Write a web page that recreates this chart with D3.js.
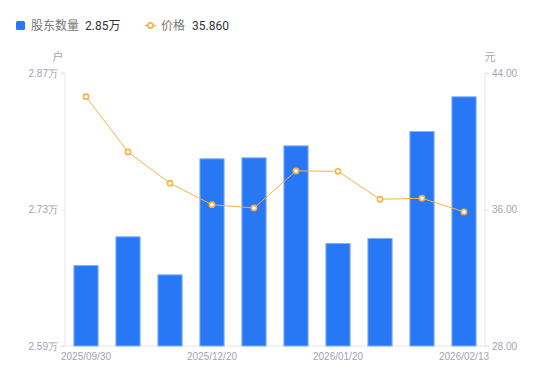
<!DOCTYPE html>
<html>
<head>
<meta charset="utf-8">
<script src="https://cdn.jsdelivr.net/npm/d3@7.9.0/dist/d3.min.js"></script>
<style>
  body { margin: 0; background: #fff; }
  svg { font-family: Roboto, "Noto Sans CJK SC", sans-serif; }
</style>
</head>
<body>
<svg id="chart"></svg>
<script>
const width = 550;
const height = 381;

// data
const dates = ["2025/09/30", "2025/10/31", "2025/11/30", "2025/12/20", "2025/12/31",
               "2026/01/09", "2026/01/20", "2026/01/30", "2026/02/10", "2026/02/13"];
const holders = [2.673, 2.7025, 2.6635, 2.7825, 2.7835, 2.7958, 2.6956, 2.7008, 2.8105, 2.8461];
const prices = [42.61, 39.37, 37.54, 36.28, 36.09, 38.26, 38.24, 36.60, 36.66, 35.86];
const leftTicks = [2.59, 2.73, 2.87];
const rightTicks = [28, 36, 44];
const shownDates = ["2025/09/30", "2025/12/20", "2026/01/20", "2026/02/13"];

const barColor = "#2878f5";
const lineColor = "#f5b342";
const axisColor = "#e6e6e6";
const labelColor = "#a3a3b5";

const svg = d3.select("#chart").attr("width", width).attr("height", height);

const x = d3.scaleBand().domain(dates).range([65, 485]).paddingInner(0.4).paddingOuter(0.2);
const yL = d3.scaleLinear().domain([2.59, 2.87]).range([346, 73]);
const yR = d3.scaleLinear().domain([28, 44]).range([346, 73]);

// axes
const leftAxis = svg.append("g")
    .attr("transform", "translate(65,0)")
    .call(d3.axisLeft(yL).tickValues(leftTicks).tickSize(4).tickPadding(3)
        .tickFormat(d => d.toFixed(2) + "万"));
const rightAxis = svg.append("g")
    .attr("transform", "translate(485,0)")
    .call(d3.axisRight(yR).tickValues(rightTicks).tickSize(4).tickPadding(3)
        .tickFormat(d => d.toFixed(2)));
const bottomAxis = svg.append("g")
    .attr("transform", "translate(0,346)")
    .call(d3.axisBottom(x).tickValues(shownDates).tickSize(0).tickPadding(7));

[leftAxis, rightAxis, bottomAxis].forEach(a => {
    a.select(".domain").attr("stroke", axisColor);
    a.selectAll(".tick line").attr("stroke", axisColor);
    a.selectAll(".tick text").attr("fill", labelColor).style("font-size", "10px");
});
leftAxis.select(".domain").attr("d", "M-4,73H0V346H-4");
rightAxis.select(".domain").attr("d", "M4,73H0V346H4");
bottomAxis.select(".domain").attr("d", "M65,0H485");

// unit labels
svg.append("text").attr("x", 58).attr("y", 61).attr("text-anchor", "middle")
    .attr("fill", labelColor).style("font-size", "11px").text("户");
svg.append("text").attr("x", 490).attr("y", 61).attr("text-anchor", "middle")
    .attr("fill", labelColor).style("font-size", "11px").text("元");

// bars
svg.append("g").selectAll("rect")
    .data(holders)
    .join("rect")
    .attr("x", (d, i) => x(dates[i]) + 0.5)
    .attr("width", x.bandwidth() - 1)
    .attr("y", d => yL(d) + 0.5)
    .attr("height", d => yL.range()[0] - yL(d) - 0.5)
    .attr("fill", barColor)
    .attr("stroke", "#7fb0fa")
    .attr("stroke-width", 1);

// price line
const cx = (d, i) => x(dates[i]) + x.bandwidth() / 2;
const line = d3.line().x(cx).y(d => yR(d));
svg.append("path")
    .datum(prices)
    .attr("d", line)
    .attr("fill", "none")
    .attr("stroke", lineColor)
    .attr("stroke-width", 1);
svg.append("g").selectAll("circle")
    .data(prices)
    .join("circle")
    .attr("cx", cx)
    .attr("cy", d => yR(d))
    .attr("r", 2.6)
    .attr("fill", "#fff")
    .attr("stroke", lineColor)
    .attr("stroke-width", 1.6);

// legend
const legend = svg.append("g").attr("transform", "translate(0,1)");
legend.append("rect").attr("x", 16).attr("y", 20).attr("width", 9).attr("height", 9)
    .attr("rx", 1.5).attr("fill", barColor);
legend.append("text").attr("x", 31).attr("y", 29).attr("fill", "#777").style("font-size", "12px").text("股东数量");
legend.append("text").attr("x", 85).attr("y", 29).attr("fill", "#333").style("font-size", "12px")
    .text(holders[holders.length - 1].toFixed(2) + "万");
legend.append("line").attr("x1", 145).attr("x2", 156).attr("y1", 24.5).attr("y2", 24.5)
    .attr("stroke", lineColor).attr("stroke-width", 1.5);
legend.append("circle").attr("cx", 150.5).attr("cy", 24.5).attr("r", 2.6)
    .attr("fill", "#fff").attr("stroke", lineColor).attr("stroke-width", 1.6);
legend.append("text").attr("x", 161).attr("y", 29).attr("fill", "#777").style("font-size", "12px").text("价格");
legend.append("text").attr("x", 192).attr("y", 29).attr("fill", "#333").style("font-size", "12px")
    .text(prices[prices.length - 1].toFixed(3));
</script>
</body>
</html>
